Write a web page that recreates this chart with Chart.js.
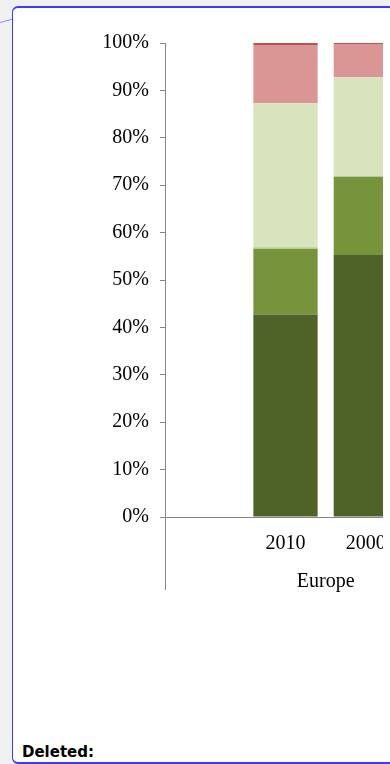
<!DOCTYPE html>
<html>
<head>
<meta charset="utf-8">
<script src="https://cdn.jsdelivr.net/npm/chart.js@4/dist/chart.umd.min.js"></script>
<style>
  html, body { margin: 0; padding: 0; background: #f0f0f0; width: 390px; height: 764px; overflow: hidden; }
  #box { position: absolute; left: 12px; top: 6px; width: 380px; height: 754px; background: #fff;
         border: 2px solid #3a3aff; border-left-width: 1.5px; border-radius: 6px; box-sizing: content-box; }
  #clip { position: absolute; left: 14px; top: 8px; width: 369px; height: 640px; overflow: hidden; }
  #c { position: absolute; left: -13px; top: -8px; }
  #deleted { position: absolute; left: 22px; top: 743px; font-family: "DejaVu Sans", sans-serif; font-weight: bold; font-size: 15px; color: #000; }
  #conn { position: absolute; left: 0; top: 0; }
</style>
</head>
<body>
<svg id="conn" width="20" height="30"><line x1="0" y1="22.5" x2="13" y2="19" stroke="#8a8aff" stroke-width="1"/></svg>
<div id="box"></div>
<div id="clip"><canvas id="c" width="405" height="640"></canvas></div>
<div id="deleted">Deleted:</div>
<script>
// Data (percent of total)
const categories = ['', '2010', '2000'];
const groupLabels = ['Europe'];
const groupStart = [1];
const groupEnd = [2];
const yTicks = [0, 10, 20, 30, 40, 50, 60, 70, 80, 90, 100];

const series1 = [null, 42.7, 55.3];
const series2 = [null, 13.9, 16.5];
const series3 = [null, 0.4, 0.2];
const series4 = [null, 30.3, 20.8];
const series5 = [null, 12.3, 7.0];
const series6 = [null, 0.4, 0.2];

const seriesNames = ['Series 1', 'Series 2', 'Series 3', 'Series 4', 'Series 5', 'Series 6'];
const seriesColors = ['#4f6228', '#77933c', '#c3d69b', '#d7e4bd', '#d99694', '#c0504d'];
const seriesData = [series1, series2, series3, series4, series5, series6];

const AXIS_GRAY = '#878787';
const FONT = { family: '"Liberation Serif", "Times New Roman", serif', size: 20 };

const extras = {
  id: 'extras',
  afterDraw(chart) {
    const ctx = chart.ctx;
    const area = chart.chartArea;
    const xs = chart.scales.x;
    ctx.save();
    ctx.strokeStyle = AXIS_GRAY;
    ctx.lineWidth = 1;
    const lx = Math.round(area.left) + 0.5;
    ctx.beginPath();
    ctx.moveTo(lx, area.bottom);
    ctx.lineTo(lx, area.bottom + 73);
    ctx.stroke();
    ctx.fillStyle = '#000';
    ctx.font = FONT.size + 'px ' + FONT.family;
    ctx.textAlign = 'center';
    ctx.textBaseline = 'middle';
    groupLabels.forEach((g, i) => {
      const cx = (xs.getPixelForValue(groupStart[i]) + xs.getPixelForValue(groupEnd[i])) / 2;
      ctx.fillText(g, cx, area.bottom + 65);
    });
    ctx.restore();
  }
};

new Chart(document.getElementById('c'), {
  type: 'bar',
  data: {
    labels: categories,
    datasets: seriesData.map((d, i) => ({
      label: seriesNames[i],
      data: d,
      backgroundColor: seriesColors[i],
      borderWidth: 0,
      barPercentage: 1,
      categoryPercentage: 0.8
    }))
  },
  options: {
    responsive: false,
    animation: false,
    devicePixelRatio: 1,
    layout: { padding: { top: 43, right: 0, bottom: 0, left: 0 } },
    plugins: { legend: { display: false }, tooltip: { enabled: false } },
    scales: {
      x: {
        stacked: true,
        offset: true,
        grid: { display: false, drawTicks: false },
        border: { display: true, color: AXIS_GRAY, width: 1 },
        ticks: { color: '#000', font: FONT, padding: 15, maxRotation: 0, autoSkip: false },
        afterFit(s) { s.height = 123; }
      },
      y: {
        stacked: true,
        min: 0,
        max: 100,
        afterBuildTicks(s) { s.ticks = yTicks.map(v => ({ value: v })); },
        grid: { drawOnChartArea: false, drawTicks: true, tickLength: 5, color: AXIS_GRAY },
        border: { display: true, color: AXIS_GRAY, width: 1 },
        ticks: { color: '#000', font: FONT, padding: 11, callback: v => v + '%' },
        afterFit(s) { s.width = 164; }
      }
    }
  },
  plugins: [extras]
});
</script>
</body>
</html>
